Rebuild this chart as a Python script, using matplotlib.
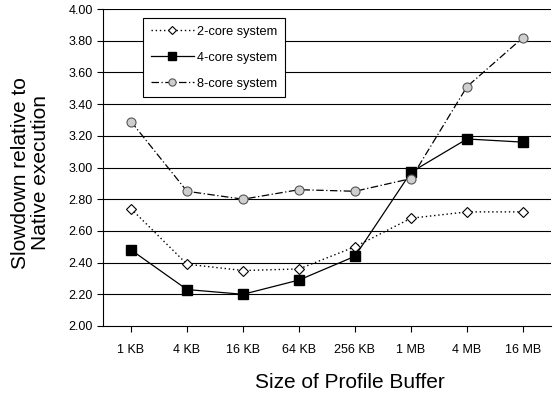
import matplotlib
matplotlib.use("Agg")
import matplotlib.pyplot as plt

plt.rcParams['font.family'] = ['Liberation Sans', 'DejaVu Sans']

categories = ["1 KB", "4 KB", "16 KB", "64 KB", "256 KB", "1 MB", "4 MB", "16 MB"]
core2 = [2.74, 2.39, 2.35, 2.36, 2.50, 2.68, 2.72, 2.72]
core4 = [2.48, 2.23, 2.20, 2.29, 2.44, 2.97, 3.18, 3.16]
core8 = [3.29, 2.85, 2.80, 2.86, 2.85, 2.93, 3.51, 3.82]
yticks = [2.00, 2.20, 2.40, 2.60, 2.80, 3.00, 3.20, 3.40, 3.60, 3.80, 4.00]

W, H = 554, 396
fig = plt.figure(figsize=(W / 100, H / 100), dpi=100)
ax = fig.add_axes([103/W, 70/H, 448/W, 317/H])
x = list(range(len(categories)))

for y in yticks[1:]:
    ax.axhline(y, color='black', lw=0.8, zorder=1)

ax.plot(x, core2, linestyle=(0, (1, 2)), color='black', lw=1.0, marker='D', ms=5.5,
        mfc='white', mec='black', mew=0.8, label='2-core system', zorder=3)
ax.plot(x, core4, linestyle='-', color='black', lw=0.9, marker='s', ms=7,
        mfc='black', mec='black', label='4-core system', zorder=3)
ax.plot(x, core8, linestyle=(0, (6, 2, 1, 2)), color='black', lw=0.9, marker='o', ms=6.5,
        mfc='#cfcfcf', mec='#555555', mew=0.8, label='8-core system', zorder=3)

ax.set_xlim(-0.5, 7.5)
ax.set_ylim(2.0, 4.0)
ax.set_yticks(yticks)
ax.set_yticklabels([f"{v:.2f}" for v in yticks], fontsize=9)
ax.set_xticks(x)
ax.set_xticklabels(categories, fontsize=9)
ax.tick_params(axis='both', direction='out', length=4, width=0.8, color='black')
ax.tick_params(axis='x', pad=9)
for s in ['top', 'right']:
    ax.spines[s].set_visible(False)
ax.spines['left'].set_linewidth(0.8)
ax.spines['bottom'].set_linewidth(0.8)

ax.set_ylabel("Slowdown relative to\nNative execution", fontsize=15, linespacing=1.05)
ax.yaxis.set_label_coords((50 - 103) / 448, (H - 173 - 70) / 317)
ax.set_xlabel("Size of Profile Buffer", fontsize=15)
ax.xaxis.set_label_coords((350 - 103) / 448, (H - 373 - 70) / 317)

leg = ax.legend(loc='upper left', bbox_to_anchor=((143 - 103) / 448, (H - 18 - 70) / 317),
                fontsize=9.2, frameon=True, fancybox=False, edgecolor='black', framealpha=1,
                handlelength=3.4, borderpad=0.6, labelspacing=1.1, handletextpad=0.2,
                borderaxespad=0, markerscale=0.8)
leg.get_frame().set_linewidth(0.8)

fig.savefig("out.png", dpi=100)
